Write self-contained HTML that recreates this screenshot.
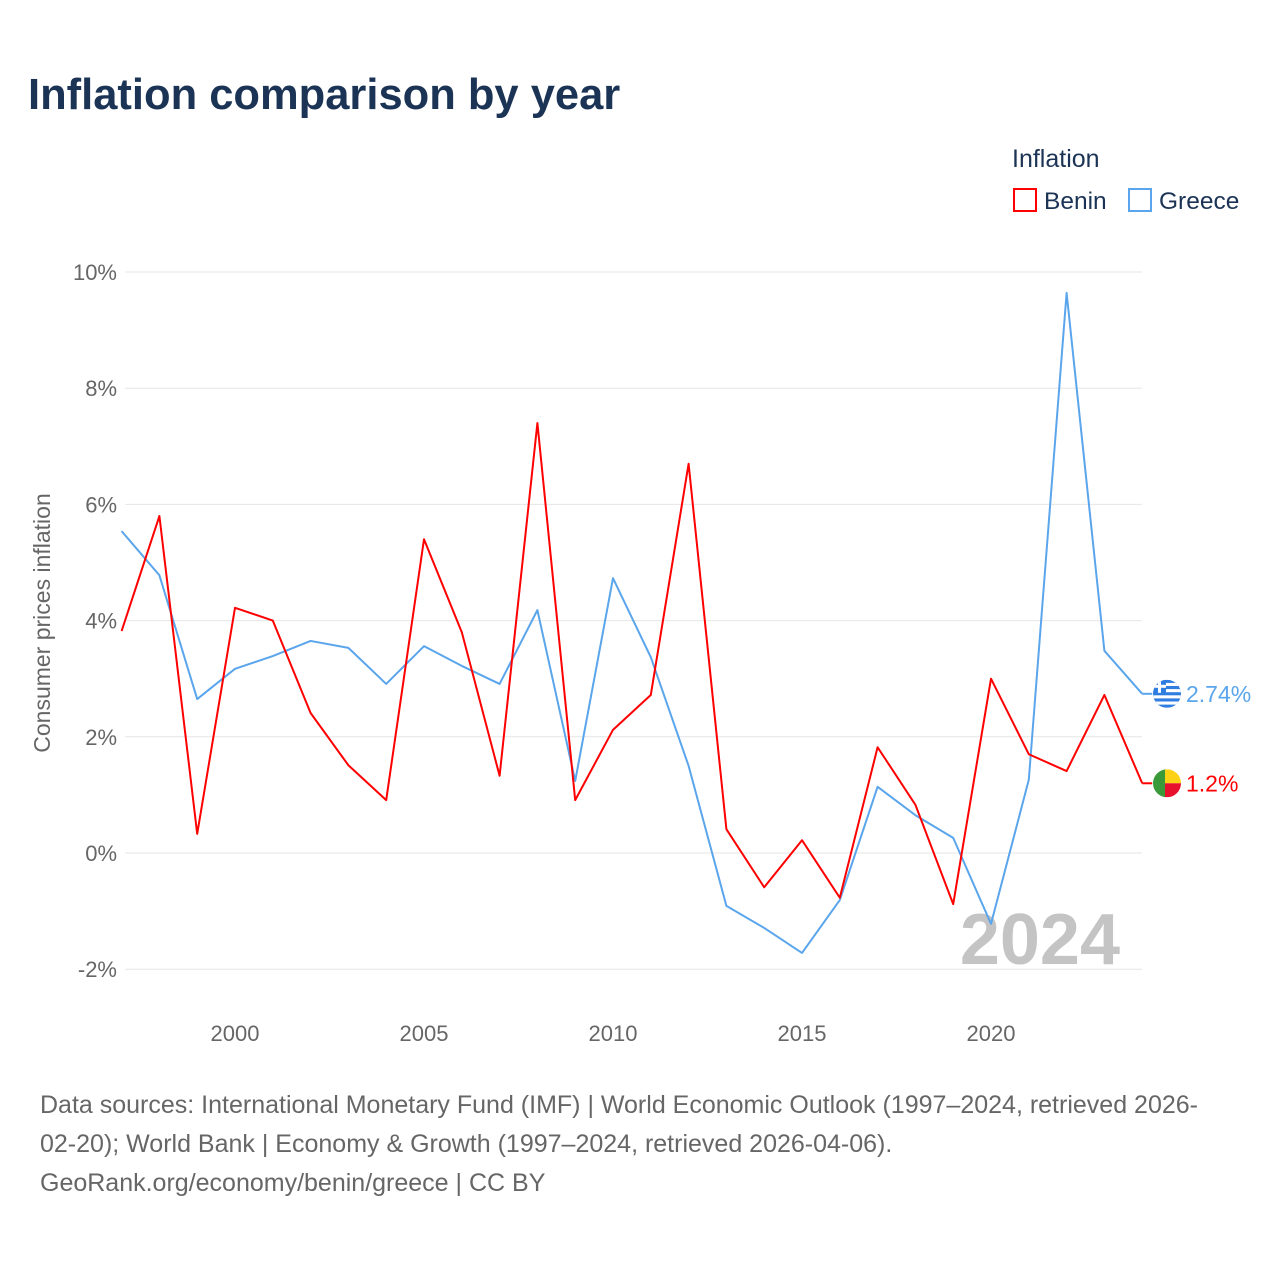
<!DOCTYPE html>
<html><head><meta charset="utf-8">
<style>
body{margin:0;background:#fff;font-family:"Liberation Sans",sans-serif;}
#wrap{position:relative;width:1280px;height:1280px;overflow:hidden;}
h1{position:absolute;left:28px;top:71px;margin:0;font-size:43.5px;font-weight:bold;color:#1b3354;letter-spacing:0;}
.src{position:absolute;left:40px;top:1086px;width:1230px;font-size:25px;line-height:39px;color:#666;}
</style></head>
<body><div id="wrap">
<h1>Inflation comparison by year</h1>
<svg id="svg" width="1280" height="1280" style="position:absolute;left:0;top:0"></svg>
<div class="src">Data sources: International Monetary Fund (IMF) | World Economic Outlook (1997–2024, retrieved 2026-<br>02-20); World Bank | Economy &amp; Growth (1997–2024, retrieved 2026-04-06).<br>GeoRank.org/economy/benin/greece | CC BY</div>
</div>
<script>
const years=[1997,1998,1999,2000,2001,2002,2003,2004,2005,2006,2007,2008,2009,2010,2011,2012,2013,2014,2015,2016,2017,2018,2019,2020,2021,2022,2023,2024];
const benin=[3.82,5.8,0.33,4.22,4.0,2.41,1.51,0.91,5.4,3.8,1.33,7.4,0.91,2.12,2.72,6.7,0.41,-0.59,0.22,-0.77,1.82,0.83,-0.88,3.0,1.7,1.41,2.72,1.2];
const greece=[5.54,4.78,2.65,3.17,3.39,3.65,3.53,2.91,3.56,3.22,2.91,4.18,1.24,4.73,3.37,1.5,-0.91,-1.29,-1.72,-0.81,1.14,0.65,0.26,-1.22,1.26,9.64,3.48,2.74];
const yTicks=[-2,0,2,4,6,8,10];
const xTicks=[2000,2005,2010,2015,2020];
const NS="http://www.w3.org/2000/svg";
const svg=document.getElementById('svg');
const X=y=>121.6+(y-1997)*37.8;
const Y=v=>853-v*58.1;
function mk(t,a,txt){const e=document.createElementNS(NS,t);for(const k in a)e.setAttribute(k,a[k]);if(txt!==undefined)e.textContent=txt;svg.appendChild(e);return e;}
yTicks.forEach(v=>{
 const g=mk('line',{x1:125,x2:1142,y1:Y(v),y2:Y(v),stroke:'#e6e6e6','stroke-width':1});
 
 
 const t=mk('text',{x:117,y:Y(v)+8,'text-anchor':'end','font-size':22,fill:'#666'},v+'%');
 
 
});
xTicks.forEach(v=>{
 const t=mk('text',{x:X(v),y:1041,'text-anchor':'middle','font-size':22,fill:'#666'},v);
 
 
});
const yt=mk('text',{x:0,y:0,transform:'translate(50,623) rotate(-90)','text-anchor':'middle','font-size':23,fill:'#666'},'Consumer prices inflation');


const yr=mk('text',{x:1120,y:964,'text-anchor':'end','font-size':72,'font-weight':'bold',fill:'#c4c4c4'},'2024');


function series(vals,color,name){
 const p=mk('polyline',{points:vals.map((v,i)=>X(years[i])+','+Y(v)).join(' '),fill:'none',stroke:color,'stroke-width':2,'stroke-linejoin':'round'});
 
 
 const last=vals[vals.length-1];
 const l=mk('line',{x1:X(2024),x2:X(2024)+10,y1:Y(last),y2:Y(last),stroke:color,'stroke-width':2});
 
 
 const lb=mk('text',{x:1186,y:Y(last)+8,'font-size':23,fill:color},(name==='greece'?last.toFixed(2):last.toFixed(1))+'%');
 
 
}
series(greece,'#5aa5eb','greece');
series(benin,'#f00','benin');
const gy=Y(greece[greece.length-1]);
const cp=mk('clipPath',{id:'cg'});
const cgc=document.createElementNS(NS,'circle');cgc.setAttribute('cx',1167);cgc.setAttribute('cy',gy);cgc.setAttribute('r',14);cp.appendChild(cgc);
const gf=document.createElementNS(NS,'g');


svg.appendChild(gf);
gf.setAttribute('clip-path','url(#cg)');
const addR=(g,x,y,w,h,f)=>{const r=document.createElementNS(NS,'rect');r.setAttribute('x',x);r.setAttribute('y',y);r.setAttribute('width',w);r.setAttribute('height',h);r.setAttribute('fill',f);g.appendChild(r);};
addR(gf,1153,gy-14,28,28,'#2f7de1');
for(let i=1;i<9;i+=2)addR(gf,1153,gy-14+i*3.1,28,3.1,'#fff');
addR(gf,1153,gy-14,13,13,'#2f7de1');addR(gf,1158,gy-14,3,13,'#fff');addR(gf,1153,gy-9,13,3,'#fff');
const by=Y(benin[benin.length-1]);
const cb=mk('clipPath',{id:'cb'});
const cc=document.createElementNS(NS,'circle');cc.setAttribute('cx',1167);cc.setAttribute('cy',by);cc.setAttribute('r',14);cb.appendChild(cc);
const bf=document.createElementNS(NS,'g');


svg.appendChild(bf);
bf.setAttribute('clip-path','url(#cb)');
addR(bf,1153,by-14,12,28,'#3a9a3a');addR(bf,1165,by-14,16,14,'#fcd116');addR(bf,1165,by,16,14,'#e8112d');
const lt=mk('text',{x:1012,y:167,'font-size':25,fill:'#1b3354'},'Inflation');


[[1014,'#f00','Benin'],[1129,'#5aa5eb','Greece']].forEach(a=>{
 const r=mk('rect',{x:a[0],y:189,width:22,height:22,fill:'none',stroke:a[1],'stroke-width':2});
 
 
 const t=mk('text',{x:a[0]+30,y:209,'font-size':24.5,fill:'#1b3354'},a[2]);
 
 
});
</script>
</body></html>
